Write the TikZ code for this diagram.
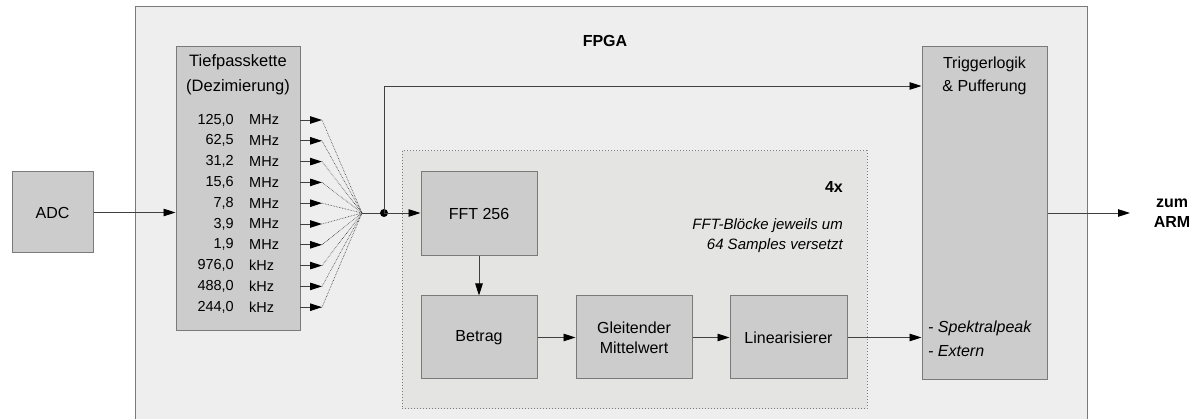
\documentclass[tikz,border=0pt]{standalone}
\usepackage{fontspec}
\setmainfont{Liberation Sans}
\usetikzlibrary{arrows.meta}
\definecolor{framebg}{HTML}{EEEEEE}
\definecolor{groupbg}{HTML}{E4E4E2}
\definecolor{blockbg}{HTML}{CCCCCC}
\definecolor{edge}{HTML}{7A7A7A}
\tikzset{
  block/.style={draw=edge, fill=blockbg, line width=1pt, inner sep=0pt, align=center,
    font=\fontsize{16}{19}\selectfont},
  flow/.style={draw=black!75, line width=0.9pt,
    -{Triangle[length=12pt,width=7.5pt,color=black]}},
  fan/.style={draw=black!80, line width=0.6pt, densely dotted},
  freq/.style={font=\fontsize{14.5}{16}\selectfont, inner sep=0pt},
  lbl/.style={inner sep=0pt},
}
\begin{document}
\begin{tikzpicture}[x=1pt,y=-1pt]
\useasboundingbox (0,0) rectangle (1197,419);
\begin{scope}
\clip (0,0) rectangle (1197,419);
% FPGA frame
\draw[draw=edge, fill=framebg, line width=1pt] (135,7) rectangle (1087,430);
\end{scope}
\node[lbl, font=\bfseries\fontsize{16}{19}\selectfont] (fpga) at (605,41) {FPGA};

% group of four FFT chains
\draw[draw=edge, fill=groupbg, line width=1pt, dotted] (402,151) rectangle (867,409);
\node[lbl, anchor=east, font=\bfseries\fontsize{16}{19}\selectfont] (four) at (843,187) {4x};
\node[lbl, anchor=east, align=right, font=\itshape\fontsize{15}{20}\selectfont] (offs) at (843,236)
  {FFT-Blöcke jeweils um\\64 Samples versetzt};

% blocks
\node[block, minimum width=81pt, minimum height=81pt] (adc) at (52.5,212.5) {ADC};
\node[block, minimum width=124pt, minimum height=284pt] (tp) at (238,189) {};
\node[lbl, align=center, font=\fontsize{16.5}{25}\selectfont] (tptxt) at (238,75)
  {Tiefpasskette\\(Dezimierung)};
\node[block, minimum width=116pt, minimum height=84pt] (fft) at (479,214) {FFT 256};
\node[block, minimum width=116pt, minimum height=83pt] (betrag) at (479,337.5) {Betrag};
\node[block, minimum width=116pt, minimum height=83pt, font=\fontsize{16}{20}\selectfont] (gmw) at (634,337.5) {Gleitender\\Mittelwert};
\node[block, minimum width=117pt, minimum height=83pt] (lin) at (788.5,337.5) {Linearisierer};
\node[block, minimum width=125pt, minimum height=333pt] (trig) at (984.5,213.5) {};
\node[lbl, align=center, font=\fontsize{16}{23}\selectfont] (trigtxt) at (984.5,76)
  {Triggerlogik\\\& Pufferung};
\node[lbl, align=left, anchor=west, font=\itshape\fontsize{16}{24}\selectfont] (srcs) at (928,339)
  {- Spektralpeak\\- Extern};
\node[lbl, align=center, font=\bfseries\fontsize{16}{20}\selectfont] (arm) at (1172,213) {zum\\ARM};

% decimated rates
\foreach \i/\v/\u in {0/{125,0}/MHz,1/{62,5}/MHz,2/{31,2}/MHz,3/{15,6}/MHz,4/{7,8}/MHz,
                      5/{3,9}/MHz,6/{1,9}/MHz,7/{976,0}/kHz,8/{488,0}/kHz,9/{244,0}/kHz}{
  \pgfmathsetmacro{\yy}{120+\i*20.8}
  \node[freq, anchor=east] (v\i) at (234,\yy) {\v};
  \node[freq, anchor=west] (u\i) at (249,\yy) {\u};
  \coordinate (s\i) at (300,\yy);
  \coordinate (t\i) at (322,\yy);
}
\coordinate (fanpt) at (362,213);
\coordinate (dot) at (384,213);
\coordinate (up) at (384,86);
\foreach \i in {0,...,9}{
  \draw[flow] (s\i) -- (t\i);
  \draw[fan] (t\i) -- (fanpt);
}

% connectors
\draw[flow] (adc.east) -- (adc.east -| tp.west);
\draw[draw=black!75, line width=0.9pt] (fanpt) -- (dot);
\fill[black] (dot) circle (4pt);
\draw[flow] (dot) -- (fft.west |- dot);
\draw[flow] (dot) -- (up) -- (up -| trig.west);
\draw[flow] (fft.south) -- (betrag.north);
\draw[flow] (betrag.east) -- (gmw.west);
\draw[flow] (gmw.east) -- (lin.west);
\draw[flow] (lin.east) -- (lin.east -| trig.west);
\draw[flow] (trig.east |- arm.west) -- (1130,213);
\end{tikzpicture}
\end{document}
